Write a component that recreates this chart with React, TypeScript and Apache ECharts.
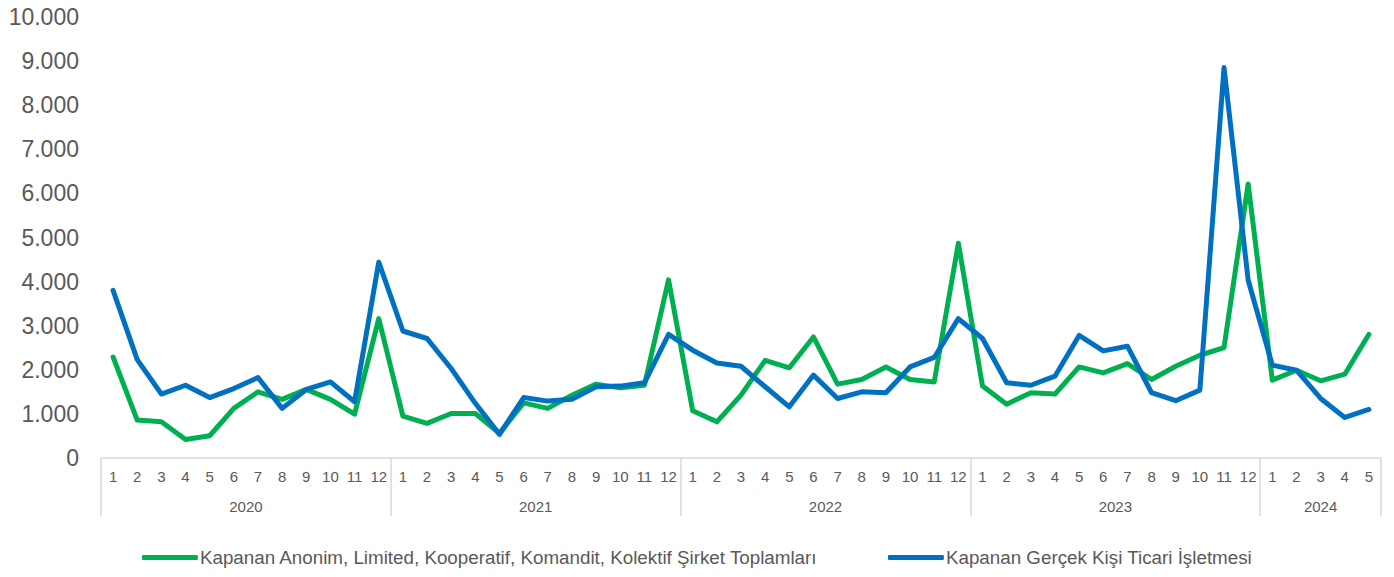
import React, { useEffect, useRef } from "react";
import * as echarts from "echarts";

const years = ["2020", "2021", "2022", "2023", "2024"];
const monthsPerYear = [12, 12, 12, 12, 5];
const yTicks = [0, 1000, 2000, 3000, 4000, 5000, 6000, 7000, 8000, 9000, 10000];

const greenName = "Kapanan Anonim, Limited, Kooperatif, Komandit, Kolektif Şirket Toplamları";
const blueName = "Kapanan Gerçek Kişi Ticari İşletmesi";

const greenValues = [
  2290, 860, 820, 420, 505, 1125, 1500, 1330, 1555, 1330, 995, 3160,
  950, 785, 1010, 1010, 560, 1250, 1125, 1425, 1675, 1590, 1650, 4040,
  1070, 820, 1425, 2215, 2045, 2745, 1675, 1780, 2065, 1780, 1725, 4870,
  1630, 1220, 1480, 1450, 2065, 1930, 2140, 1780, 2080, 2330, 2505, 6215,
  1765, 1990, 1750, 1900, 2805,
];
const blueValues = [
  3800, 2230, 1450, 1650, 1370, 1575, 1825, 1125, 1555, 1725, 1275, 4440,
  2880, 2710, 2030, 1240, 535, 1370, 1290, 1330, 1615, 1630, 1705, 2805,
  2445, 2155, 2080, 1615, 1160, 1880, 1350, 1500, 1480, 2065, 2280, 3160,
  2710, 1705, 1650, 1855, 2780, 2430, 2535, 1480, 1300, 1540, 8855, 4030,
  2105, 1990, 1350, 920, 1100,
];

const FONT = "'Liberation Sans', Arial, sans-serif";
const TEXT = "#595959";
const AXIS = "#d9d9d9";
const GREEN = "#00B050";
const BLUE = "#0070C0";

function fmt(v: number): string {
  return String(Math.round(v)).replace(/\B(?=(\d{3})+(?!\d))/g, ".");
}

export default function App() {
  const ref = useRef<HTMLDivElement>(null);
  useEffect(() => {
    document.body.style.margin = "0";
    if (!ref.current) return;
    const chart = echarts.init(ref.current, null, { renderer: "svg" });

    const categories: string[] = [];
    const boundaries: number[] = [0];
    const yearCenters: number[] = [];
    let acc = 0;
    monthsPerYear.forEach((n) => {
      for (let m = 1; m <= n; m++) categories.push(String(m) + "|" + categories.length);
      yearCenters.push(acc + n / 2);
      acc += n;
      boundaries.push(acc);
    });
    const total = acc;

    chart.setOption({
      animation: false,
      textStyle: { fontFamily: FONT },
      grid: { left: 101, right: 13, top: 17, bottom: 119, containLabel: false },
      legend: {
        left: "center",
        top: 543,
        itemWidth: 56,
        itemHeight: 5,
        itemGap: 70,
        textStyle: { fontFamily: FONT, fontSize: 18.8, color: TEXT, padding: [0, 0, 0, -3] },
        data: [
          { name: greenName, icon: "roundRect", itemStyle: { color: GREEN } },
          { name: blueName, icon: "roundRect", itemStyle: { color: BLUE } },
        ],
      },
      xAxis: [
        {
          type: "category",
          data: categories,
          boundaryGap: true,
          axisLine: { show: true, lineStyle: { color: AXIS, width: 1.5 } },
          axisTick: { show: false },
          axisLabel: {
            interval: 0,
            color: TEXT,
            fontSize: 15,
            fontFamily: FONT,
            margin: 11,
            formatter: (v: string) => v.split("|")[0],
          },
          splitLine: { show: false },
        },
        {
          type: "value",
          min: 0,
          max: total,
          position: "bottom",
          axisLine: { show: false },
          splitLine: { show: false },
          axisTick: {
            show: true,
            customValues: boundaries,
            length: 58,
            lineStyle: { color: AXIS, width: 1.5 },
          },
          axisLabel: {
            show: true,
            customValues: yearCenters,
            color: TEXT,
            fontSize: 15,
            fontFamily: FONT,
            margin: 41,
            formatter: (v: number) => {
              const i = yearCenters.findIndex((c) => Math.abs(c - v) < 0.01);
              return i >= 0 ? years[i] : "";
            },
          },
        },
      ],
      yAxis: {
        type: "value",
        min: yTicks[0],
        max: yTicks[yTicks.length - 1],
        interval: 1000,
        axisLine: { show: false },
        axisTick: { show: false },
        splitLine: { show: false },
        axisLabel: {
          color: TEXT,
          fontSize: 23,
          fontFamily: FONT,
          margin: 22,
          formatter: (v: number) => fmt(v),
        },
      },
      series: [
        {
          name: greenName,
          type: "line",
          xAxisIndex: 0,
          data: greenValues,
          symbol: "none",
          showSymbol: false,
          lineStyle: { color: GREEN, width: 5, cap: "round", join: "round" },
          itemStyle: { color: GREEN },
        },
        {
          name: blueName,
          type: "line",
          xAxisIndex: 0,
          data: blueValues,
          symbol: "none",
          showSymbol: false,
          lineStyle: { color: BLUE, width: 5, cap: "round", join: "round" },
          itemStyle: { color: BLUE },
        },
      ],
    });
    return () => chart.dispose();
  }, []);
  return <div ref={ref} style={{ width: 1394, height: 577 }} />;
}
